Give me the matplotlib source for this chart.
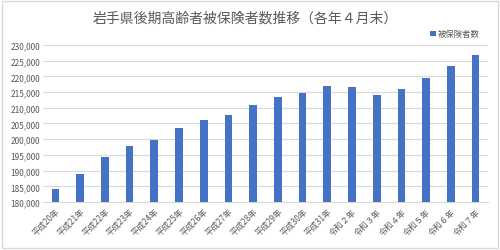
import matplotlib
matplotlib.use("Agg")
import matplotlib.pyplot as plt
from matplotlib.patches import Rectangle

plt.rcParams['font.family'] = ['Noto Sans CJK JP', 'DejaVu Sans']

categories = ["平成20年", "平成21年", "平成22年", "平成23年", "平成24年", "平成25年",
              "平成26年", "平成27年", "平成28年", "平成29年", "平成30年", "平成31年",
              "令和２年", "令和３年", "令和４年", "令和５年", "令和６年", "令和７年"]
values = [184300, 188800, 194300, 197900, 199600, 203500,
          206000, 207700, 210800, 213300, 214700, 216900,
          216700, 214100, 216100, 219600, 223300, 226800]
yticks = list(range(180000, 230001, 5000))
title = "岩手県後期高齢者被保険者数推移（各年４月末）"
series_name = "被保険者数"

gray = "#595959"
grid = "#d9d9d9"
blue = "#4472C4"

fig = plt.figure(figsize=(5.0, 2.51), dpi=100)
fig.patch.set_facecolor("white")
fig.patches.append(Rectangle((0.004, 0.006), 0.992, 0.988, transform=fig.transFigure,
                             fill=False, edgecolor=grid, linewidth=1.0))

ax = fig.add_axes([0.086, 0.191, 0.890, 0.626])
x = range(len(categories))
ax.bar(x, values, width=0.31, color=blue, zorder=3, label=series_name)
ax.set_ylim(180000, 230000)
ax.set_xlim(-0.5, len(categories) - 0.5)
ax.set_yticks(yticks)
ax.set_yticklabels([f"{v:,}" for v in yticks], fontsize=6, color=gray)
ax.set_xticks(list(x))
ax.set_xticklabels(categories, rotation=45, ha="right", rotation_mode="anchor",
                   fontsize=6, color=gray)
ax.tick_params(axis="both", length=0, pad=2)
ax.tick_params(axis="x", pad=3)
ax.grid(axis="y", color=grid, linewidth=0.8, zorder=0)
for s in ["top", "right", "left"]:
    ax.spines[s].set_visible(False)
ax.spines["bottom"].set_color(grid)
ax.spines["bottom"].set_linewidth(0.8)

fig.text(0.49, 0.925, title, ha="center", va="center", fontsize=10, color=gray)
leg = ax.legend(loc="lower right", bbox_to_anchor=(0.993, 1.01), frameon=False,
                fontsize=6, handlelength=0.7, handleheight=0.7, handletextpad=0.3,
                borderaxespad=0.2)
for t in leg.get_texts():
    t.set_color(gray)

fig.savefig("out.png", dpi=100, facecolor="white")
